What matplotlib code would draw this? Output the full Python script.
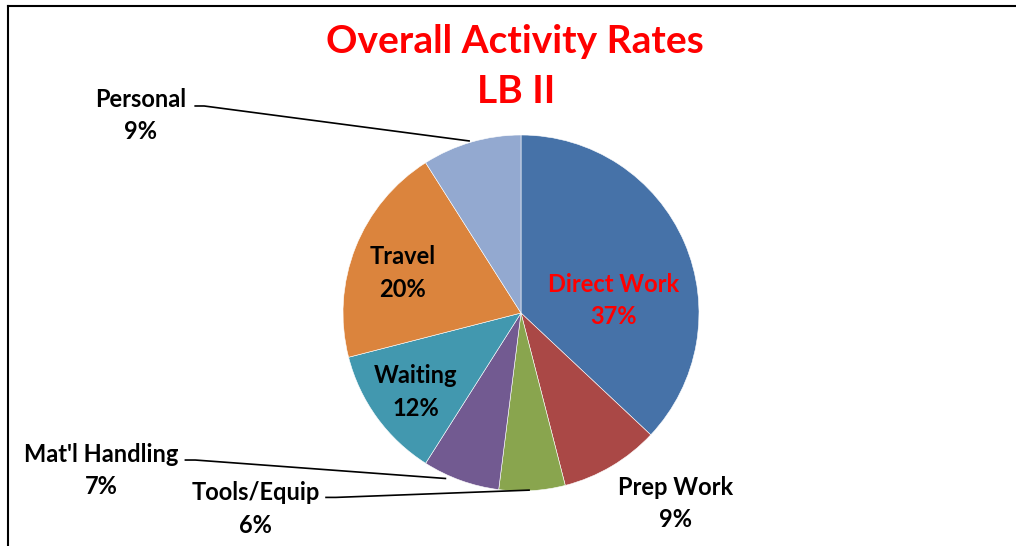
import matplotlib
matplotlib.use("Agg")
import matplotlib.pyplot as plt
from matplotlib.lines import Line2D

plt.rcParams['font.family'] = ['Lato', 'DejaVu Sans']

categories = ["Direct Work", "Prep Work", "Tools/Equip", "Mat'l Handling", "Waiting", "Travel", "Personal"]
values = [37, 9, 6, 7, 12, 20, 9]
colors = ["#4672A8", "#AA4846", "#89A54E", "#725A91", "#4298AF", "#DB843D", "#93A9D0"]
title_lines = ["Overall Activity Rates", "LB II"]

# label placement (in pie-radius units) and label colours
label_pos = {
    "Direct Work": (0.52, 0.07),
    "Prep Work": (0.87, -1.07),
    "Tools/Equip": (-1.49, -1.10),
    "Mat'l Handling": (-2.36, -0.885),
    "Waiting": (-0.59, -0.445),
    "Travel": (-0.665, 0.225),
    "Personal": (-2.135, 1.11),
}
label_color = {"Direct Work": "#FF0000"}
leaders = {
    "Personal": [(-1.835, 1.163), (-1.78, 1.163), (-0.287, 0.966)],
    "Mat'l Handling": [(-1.89, -0.826), (-1.83, -0.826), (-0.42, -0.93)],
    "Tools/Equip": [(-1.10, -1.036), (-1.04, -1.036), (0.05, -0.995)],
}

W, H = 1016, 546
fig = plt.figure(figsize=(W / 100, H / 100), dpi=100)
ax = fig.add_axes([0, 0, 1, 1])
cx, cy, R = 521, 313, 178

ax.pie(values, colors=colors, startangle=90, counterclock=False, radius=1,
       wedgeprops=dict(edgecolor="white", linewidth=0.4))
ax.set_aspect('auto')
ax.set_xlim((0 - cx) / R, (W - cx) / R)
ax.set_ylim(-(H - cy) / R, cy / R)
ax.axis('off')

total = sum(values)
for cat, v in zip(categories, values):
    x, y = label_pos[cat]
    ax.text(x, y, f"{cat}\n{round(100 * v / total)}%", ha='center', va='center',
            multialignment='center', fontsize=17, fontweight='bold',
            color=label_color.get(cat, 'black'), linespacing=1.5)

for cat, pts in leaders.items():
    xs, ys = zip(*pts)
    ax.plot(xs, ys, color='black', linewidth=1.2, solid_capstyle='butt')

fig.text(515 / W, 1 - 53 / H, title_lines[0], ha='center', va='baseline',
         fontsize=28, fontweight='bold', color='#FF0000')
fig.text(516 / W, 1 - 103 / H, title_lines[1], ha='center', va='baseline',
         fontsize=28, fontweight='bold', color='#FF0000')

# chart frame (top and left edges visible)
fig.add_artist(Line2D([8 / W, 8 / W], [0, 1 - 6 / H], color='black', linewidth=1.5,
                      transform=fig.transFigure))
fig.add_artist(Line2D([8 / W, 1], [1 - 6 / H, 1 - 6 / H], color='black', linewidth=1.5,
                      transform=fig.transFigure))

fig.savefig("out.png", dpi=100)
